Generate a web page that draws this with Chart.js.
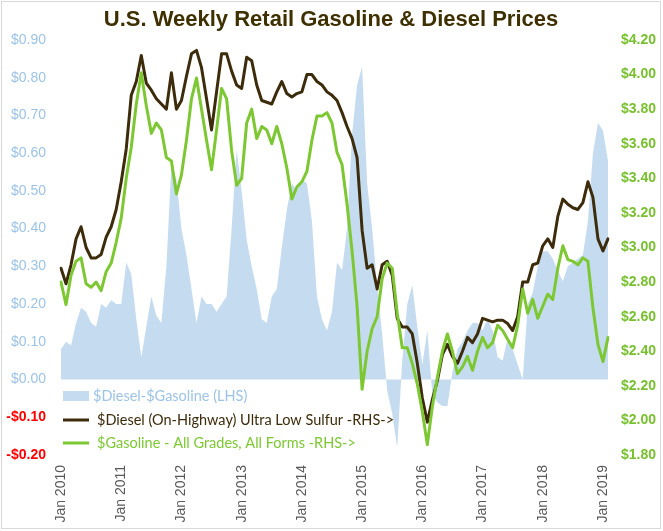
<!DOCTYPE html>
<html>
<head>
<meta charset="utf-8">
<script src="https://cdn.jsdelivr.net/npm/chart.js@4.4.1/dist/chart.umd.min.js"></script>
<style>
  html, body { margin: 0; padding: 0; background: #fff; }
  #wrap { width: 663px; height: 531px; }
</style>
</head>
<body>
<div id="wrap"><canvas id="fuelChart" width="663" height="531"></canvas></div>
<script>
// weekly EIA series, one point per month
const months = [
  'Jan 2010','Feb 2010','Mar 2010','Apr 2010','May 2010','Jun 2010','Jul 2010','Aug 2010','Sep 2010','Oct 2010','Nov 2010','Dec 2010',
  'Jan 2011','Feb 2011','Mar 2011','Apr 2011','May 2011','Jun 2011','Jul 2011','Aug 2011','Sep 2011','Oct 2011','Nov 2011','Dec 2011',
  'Jan 2012','Feb 2012','Mar 2012','Apr 2012','May 2012','Jun 2012','Jul 2012','Aug 2012','Sep 2012','Oct 2012','Nov 2012','Dec 2012',
  'Jan 2013','Feb 2013','Mar 2013','Apr 2013','May 2013','Jun 2013','Jul 2013','Aug 2013','Sep 2013','Oct 2013','Nov 2013','Dec 2013',
  'Jan 2014','Feb 2014','Mar 2014','Apr 2014','May 2014','Jun 2014','Jul 2014','Aug 2014','Sep 2014','Oct 2014','Nov 2014','Dec 2014',
  'Jan 2015','Feb 2015','Mar 2015','Apr 2015','May 2015','Jun 2015','Jul 2015','Aug 2015','Sep 2015','Oct 2015','Nov 2015','Dec 2015',
  'Jan 2016','Feb 2016','Mar 2016','Apr 2016','May 2016','Jun 2016','Jul 2016','Aug 2016','Sep 2016','Oct 2016','Nov 2016','Dec 2016',
  'Jan 2017','Feb 2017','Mar 2017','Apr 2017','May 2017','Jun 2017','Jul 2017','Aug 2017','Sep 2017','Oct 2017','Nov 2017','Dec 2017',
  'Jan 2018','Feb 2018','Mar 2018','Apr 2018','May 2018','Jun 2018','Jul 2018','Aug 2018','Sep 2018','Oct 2018','Nov 2018','Dec 2018',
  'Jan 2019','Feb 2019'
];

const xTickLabels = ['Jan 2010','Jan 2011','Jan 2012','Jan 2013','Jan 2014','Jan 2015','Jan 2016','Jan 2017','Jan 2018','Jan 2019'];

// $Diesel-$Gasoline, left axis
const spread = [
  0.08, 0.10, 0.09, 0.15, 0.19, 0.18, 0.15, 0.14, 0.20, 0.19, 0.21, 0.20,
  0.20, 0.31, 0.28, 0.16, 0.06, 0.14, 0.22, 0.17, 0.15, 0.30, 0.57, 0.53,
  0.40, 0.33, 0.24, 0.15, 0.22, 0.20, 0.20, 0.18, 0.20, 0.22, 0.40, 0.61,
  0.50, 0.37, 0.30, 0.24, 0.16, 0.15, 0.22, 0.24, 0.35, 0.45, 0.52, 0.50,
  0.53, 0.52, 0.42, 0.22, 0.16, 0.13, 0.18, 0.31, 0.29, 0.40, 0.65, 0.78,
  0.83, 0.52, 0.40, 0.25, 0.12, -0.03, -0.09, -0.18, 0.05, 0.20, 0.25, 0.14,
  0.04, 0.13, -0.04, -0.06, -0.07, -0.07, 0.02, 0.08, 0.10, 0.13, 0.15, 0.15,
  0.13, 0.16, 0.13, 0.06, 0.05, 0.11, 0.08, 0.04, 0.00, 0.20, 0.23, 0.30,
  0.34, 0.34, 0.32, 0.29, 0.26, 0.30, 0.31, 0.32, 0.33, 0.42, 0.60, 0.68,
  0.66, 0.58
];

// on-highway ultra low sulfur diesel, right axis
const diesel = [
  2.88, 2.79, 2.90, 3.05, 3.12, 3.00, 2.94, 2.94, 2.96, 3.06, 3.12, 3.22,
  3.38, 3.57, 3.88, 3.96, 4.11, 3.95, 3.91, 3.86, 3.83, 3.80, 4.01, 3.80,
  3.85, 3.99, 4.12, 4.14, 4.04, 3.86, 3.68, 3.90, 4.12, 4.12, 4.02, 3.94,
  3.92, 4.10, 4.08, 3.94, 3.85, 3.84, 3.83, 3.90, 3.96, 3.89, 3.87, 3.89,
  3.90, 4.00, 4.00, 3.96, 3.94, 3.90, 3.88, 3.85, 3.78, 3.70, 3.63, 3.52,
  3.10, 2.88, 2.90, 2.76, 2.90, 2.92, 2.84, 2.59, 2.54, 2.54, 2.50, 2.33,
  2.13, 1.99, 2.12, 2.23, 2.38, 2.44, 2.37, 2.33, 2.40, 2.48, 2.45, 2.50,
  2.59, 2.58, 2.57, 2.58, 2.58, 2.56, 2.52, 2.60, 2.80, 2.80, 2.90, 2.91,
  3.01, 3.05, 3.00, 3.18, 3.28, 3.25, 3.23, 3.22, 3.26, 3.38, 3.29, 3.05,
  2.98, 3.05
];

// gasoline, all grades, all formulations, right axis
const gasoline = [
  2.80, 2.67, 2.84, 2.92, 2.94, 2.79, 2.77, 2.80, 2.75, 2.86, 2.91, 3.03,
  3.17, 3.40, 3.58, 3.83, 4.01, 3.82, 3.66, 3.72, 3.68, 3.52, 3.50, 3.31,
  3.42, 3.62, 3.86, 3.98, 3.80, 3.62, 3.45, 3.68, 3.92, 3.86, 3.56, 3.36,
  3.40, 3.72, 3.80, 3.63, 3.70, 3.68, 3.60, 3.70, 3.60, 3.46, 3.28, 3.35,
  3.38, 3.44, 3.62, 3.76, 3.76, 3.78, 3.72, 3.55, 3.48, 3.25, 2.98, 2.66,
  2.18, 2.40, 2.53, 2.60, 2.82, 2.91, 2.88, 2.62, 2.42, 2.42, 2.33, 2.21,
  2.05, 1.86, 2.08, 2.25, 2.40, 2.50, 2.40, 2.27, 2.31, 2.37, 2.29, 2.40,
  2.48, 2.42, 2.45, 2.55, 2.52, 2.47, 2.42, 2.55, 2.76, 2.62, 2.70, 2.59,
  2.66, 2.73, 2.70, 2.88, 3.01, 2.93, 2.92, 2.90, 2.94, 2.92, 2.65, 2.44,
  2.34, 2.48
];

const leftTicks = [-0.2, -0.1, 0, 0.1, 0.2, 0.3, 0.4, 0.5, 0.6, 0.7, 0.8, 0.9];
const rightTicks = [1.8, 2.0, 2.2, 2.4, 2.6, 2.8, 3.0, 3.2, 3.4, 3.6, 3.8, 4.0, 4.2];

const AXIS_FONT = "'Liberation Sans', Arial, sans-serif";
const BLUE = '#C5DCF0';
const BLUE_TEXT = '#9DC3E6';
const BROWN = '#3D2C0B';
const GREEN = '#7DC832';
const GREEN_TEXT = '#78C02E';

function dollars(v) {
  return (v < 0 ? '-' : '') + '$' + Math.abs(v).toFixed(2);
}

// legend sits inside the plot, bottom left, like the original
const insideLegend = {
  id: 'insideLegend',
  afterDraw(chart) {
    const ctx = chart.ctx;
    const area = chart.chartArea;
    const ds = chart.data.datasets;
    const x0 = area.left + 2;
    ctx.save();
    ctx.font = "14.5px Lato, 'Open Sans', sans-serif";
    ctx.textBaseline = 'middle';

    let y = area.bottom - 59;
    ctx.fillStyle = ds[0].backgroundColor;
    ctx.fillRect(x0, y - 5, 26, 10);
    ctx.fillStyle = BLUE_TEXT;
    ctx.fillText(ds[0].label, x0 + 30, y);

    const rows = [[1, area.bottom - 35, BROWN], [2, area.bottom - 12, GREEN]];
    rows.forEach(function (r) {
      ctx.strokeStyle = ds[r[0]].borderColor;
      ctx.lineWidth = 3;
      ctx.beginPath();
      ctx.moveTo(x0, r[1]);
      ctx.lineTo(x0 + 26, r[1]);
      ctx.stroke();
      ctx.fillStyle = r[2];
      ctx.fillText(ds[r[0]].label, x0 + 34, r[1]);
    });
    ctx.restore();
  }
};

// thin grey frame round the whole chart
const frame = {
  id: 'frame',
  beforeDraw(chart) {
    const ctx = chart.ctx;
    ctx.save();
    ctx.fillStyle = '#ffffff';
    ctx.fillRect(0, 0, chart.width, chart.height);
    ctx.strokeStyle = '#D9D9D9';
    ctx.lineWidth = 1;
    ctx.strokeRect(1.5, 1.5, chart.width - 4, chart.height - 4);
    ctx.restore();
  }
};

const ctx = document.getElementById('fuelChart').getContext('2d');
const chart = new Chart(ctx, {
  type: 'line',
  data: {
    labels: months,
    datasets: [
      {
        label: '$Diesel-$Gasoline (LHS)',
        data: spread,
        yAxisID: 'yL',
        backgroundColor: BLUE,
        borderColor: BLUE,
        borderWidth: 0,
        fill: 'origin',
        pointRadius: 0,
        tension: 0,
        order: 3
      },
      {
        label: '$Diesel (On-Highway) Ultra Low Sulfur -RHS->',
        data: diesel,
        yAxisID: 'yR',
        borderColor: BROWN,
        borderWidth: 3,
        fill: false,
        pointRadius: 0,
        tension: 0,
        borderJoinStyle: 'round',
        borderCapStyle: 'round',
        order: 2
      },
      {
        label: '$Gasoline - All Grades, All Forms -RHS->',
        data: gasoline,
        yAxisID: 'yR',
        borderColor: GREEN,
        borderWidth: 3,
        fill: false,
        pointRadius: 0,
        tension: 0,
        borderJoinStyle: 'round',
        borderCapStyle: 'round',
        order: 1
      }
    ]
  },
  options: {
    responsive: false,
    animation: false,
    devicePixelRatio: 1,
    layout: { padding: { left: 6, right: 7, top: 0, bottom: 8 } },
    plugins: {
      legend: { display: false },
      tooltip: { enabled: false },
      title: {
        display: true,
        text: 'U.S. Weekly Retail Gasoline & Diesel Prices',
        color: '#3F3000',
        font: { family: AXIS_FONT, size: 22, weight: 'bold' },
        padding: { top: 7, bottom: 6.6 }
      }
    },
    scales: {
      x: {
        type: 'category',
        offset: false,
        grid: { display: false, drawTicks: false },
        border: { display: false },
        afterFit: function (axis) { axis.height = 68; },
        ticks: {
          autoSkip: false,
          minRotation: 90,
          maxRotation: 90,
          padding: 10,
          color: '#595959',
          font: { family: AXIS_FONT, size: 14 },
          callback: function (val, i) {
            const lab = months[i];
            return xTickLabels.includes(lab) ? lab : null;
          }
        }
      },
      yL: {
        type: 'linear',
        position: 'left',
        min: -0.2,
        max: 0.9,
        grid: { display: false, drawTicks: false },
        border: { display: false },
        afterBuildTicks: function (axis) {
          axis.ticks = leftTicks.map(v => ({ value: v }));
        },
        afterFit: function (axis) { axis.width = 55; },
        ticks: {
          padding: 15,
          callback: v => dollars(v),
          color: c => (c.tick && c.tick.value < -1e-9) ? '#FF0000' : BLUE_TEXT,
          font: c => ({
            family: AXIS_FONT,
            size: 14,
            weight: (c.tick && c.tick.value < -1e-9) ? 'bold' : 'normal'
          })
        }
      },
      yR: {
        type: 'linear',
        position: 'right',
        min: 1.8,
        max: 4.2,
        grid: { display: false, drawTicks: false },
        border: { display: false },
        afterBuildTicks: function (axis) {
          axis.ticks = rightTicks.map(v => ({ value: v }));
        },
        afterFit: function (axis) { axis.width = 48; },
        ticks: {
          padding: 13,
          callback: v => dollars(v),
          color: GREEN_TEXT,
          font: { family: AXIS_FONT, size: 14, weight: 'bold' }
        }
      }
    }
  },
  plugins: [frame, insideLegend]
});
</script>
</body>
</html>
